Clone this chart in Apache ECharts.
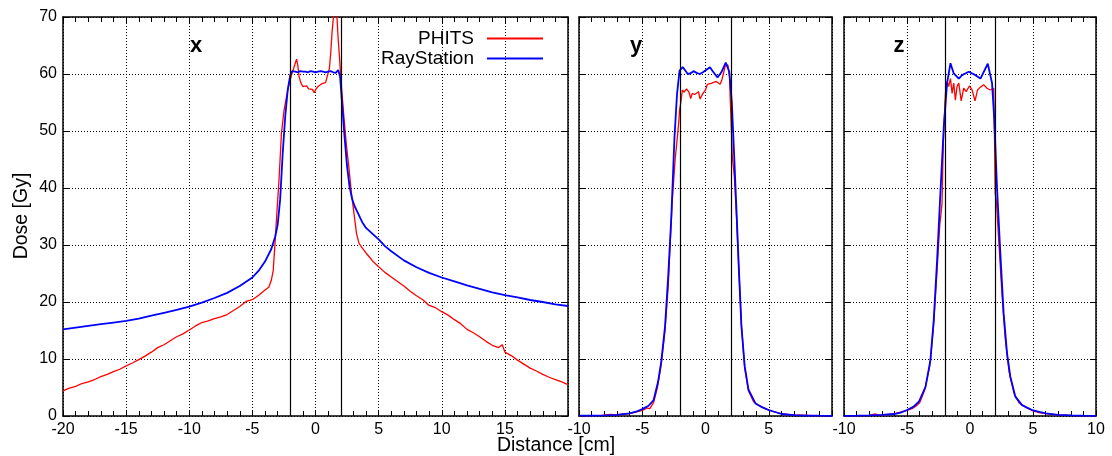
<!DOCTYPE html>
<html>
<head>
<meta charset="utf-8">
<script src="https://cdn.jsdelivr.net/npm/echarts/dist/echarts.min.js"></script>
<style>html,body{margin:0;padding:0;background:#fff}#c{width:1112px;height:456px}</style>
</head>
<body>
<div id="c"></div>
<script>
// ---------------- DATA ----------------
const panelNames = ['x', 'y', 'z'];
const seriesNames = ['PHITS', 'RayStation'];
const xRanges = [[-20, 20], [-10, 10], [-10, 10]];
const doseRange = [0, 70];
const targetEdges = [-2, 2];

const profileX_PHITS = [[-20,4.4],[-19.5,4.9],[-19,5.2],[-18.5,5.7],[-18,6.0],[-17.5,6.4],[-17,6.9],[-16.5,7.3],[-16,7.8],[-15.5,8.2],[-15,8.8],[-14.5,9.3],[-14,9.9],[-13.5,10.5],[-13,11.2],[-12.5,12.0],[-12,12.5],[-11.5,13.2],[-11,13.9],[-10.5,14.4],[-10,15.1],[-9.5,15.8],[-9,16.4],[-8.5,16.7],[-8,17.1],[-7.5,17.4],[-7,17.8],[-6.5,18.5],[-6,19.2],[-5.5,20.1],[-5,20.4],[-4.5,21.2],[-4,22.1],[-3.7,22.6],[-3.5,23.8],[-3.35,25.5],[-3.2,30.5],[-3.05,36],[-2.9,41],[-2.7,49.5],[-2.5,53.5],[-2.3,56],[-2.1,58.2],[-1.9,59.8],[-1.7,61.2],[-1.5,62.6],[-1.4,61.5],[-1.3,59.5],[-1.15,58.4],[-1.0,57.8],[-0.85,57.5],[-0.7,57.9],[-0.55,57.4],[-0.4,57.7],[-0.25,57.3],[-0.1,56.7],[0.05,57.4],[0.2,57.8],[0.35,58.0],[0.5,58.3],[0.65,58.1],[0.8,58.5],[0.95,58.8],[1.1,61],[1.2,63.5],[1.3,67],[1.4,69.5],[1.5,71.5],[1.6,71.5],[1.7,70],[1.8,66],[1.9,63],[2.0,59.5],[2.1,56.5],[2.25,52.5],[2.45,47.5],[2.65,43.5],[2.85,39],[3.05,35.5],[3.25,32],[3.45,30.3],[3.7,29.5],[4.0,28.6],[4.3,27.8],[4.6,27.0],[5.0,26.2],[5.5,25.2],[6,24.4],[6.5,23.6],[7,22.8],[7.5,21.9],[8,21.1],[8.5,20.4],[9,19.4],[9.5,19.0],[10,18.3],[10.5,17.7],[11,16.9],[11.5,16.2],[12,15.2],[12.5,14.6],[13,13.9],[13.5,13.1],[14,12.4],[14.5,12.0],[14.8,12.5],[15,11.2],[15.5,10.6],[16,9.8],[16.5,9.1],[17,8.4],[17.5,7.9],[18,7.3],[18.5,6.8],[19,6.4],[19.5,6.0],[20,5.5]];

const profileX_RS = [[-20,15.2],[-19,15.5],[-18,15.8],[-17,16.1],[-16,16.4],[-15,16.7],[-14,17.1],[-13,17.6],[-12,18.1],[-11,18.6],[-10,19.2],[-9,19.9],[-8,20.7],[-7,21.6],[-6,22.8],[-5,24.3],[-4.5,25.5],[-4,27.1],[-3.5,29.3],[-3.2,31.4],[-3.0,33.5],[-2.8,38],[-2.6,46],[-2.4,52.5],[-2.2,57.2],[-2.0,59.8],[-1.85,60.5],[-1.6,60.4],[-1.4,60.3],[-1.2,60.5],[-1.0,60.4],[-0.8,60.4],[-0.6,60.3],[-0.4,60.5],[-0.2,60.4],[0,60.3],[0.2,60.4],[0.4,60.5],[0.6,60.4],[0.8,60.3],[1.0,60.4],[1.2,60.5],[1.4,60.3],[1.6,60.2],[1.8,60.7],[1.95,59.5],[2.1,55],[2.3,49],[2.5,43.8],[2.7,40.2],[2.9,38.1],[3.1,36.8],[3.4,35.4],[3.7,34.0],[4,33.0],[4.5,32.0],[5,31.0],[5.5,29.8],[6,28.9],[7,27.3],[8,26.1],[9,25.1],[10,24.3],[11,23.6],[12,22.9],[13,22.3],[14,21.7],[15,21.2],[16,20.8],[17,20.35],[18,20.0],[19,19.6],[20,19.3]];

const profileY_PHITS = [[-10,0.02],[-9,0.05],[-8.2,0.1],[-7.5,0.3],[-7,0.2],[-6.5,0.35],[-6,0.4],[-5.5,0.7],[-5,1.0],[-4.6,1.4],[-4.4,1.3],[-4.1,2.4],[-3.8,5.0],[-3.5,9.0],[-3.2,15.0],[-2.95,22.7],[-2.65,37],[-2.4,45],[-2.2,49.5],[-2.1,51.9],[-2.05,53.7],[-1.95,55],[-1.83,57.2],[-1.7,56.8],[-1.62,56.6],[-1.5,57.4],[-1.43,57.5],[-1.3,56.8],[-1.17,55.7],[-1.05,56.6],[-0.96,56.9],[-0.85,56.4],[-0.7,56.6],[-0.55,56.9],[-0.43,55.6],[-0.3,56.2],[-0.17,56.7],[0.0,57.2],[0.15,58.2],[0.3,57.9],[0.5,58.4],[0.65,58.2],[0.85,58.7],[1.0,58.4],[1.16,58.2],[1.3,59.0],[1.45,58.8],[1.56,61.4],[1.77,61.6],[1.9,59.5],[1.96,55.4],[2.05,50],[2.12,45.5],[2.28,42],[2.45,35],[2.63,26],[2.84,16],[3.1,8.4],[3.4,4.4],[3.8,2.5],[4.2,1.9],[4.8,1.2],[5.3,0.8],[6,0.4],[6.8,0.2],[7.5,0.15],[8.5,0.05],[10,0.02]];

const profileY_RS = [[-10,0.05],[-9,0.08],[-8,0.12],[-7,0.2],[-6,0.45],[-5.5,0.75],[-5,1.2],[-4.5,1.8],[-4.1,2.8],[-3.75,6.0],[-3.5,9.5],[-3.2,15.7],[-2.95,24.4],[-2.7,35],[-2.45,49],[-2.25,56.5],[-2.05,60.6],[-1.8,61.2],[-1.6,60.6],[-1.4,60.0],[-1.2,60.1],[-0.95,60.5],[-0.7,60.2],[-0.45,60.0],[-0.2,60.3],[0.1,60.8],[0.35,61.2],[0.6,60.4],[0.95,59.4],[1.25,60.3],[1.6,62.0],[1.88,60.4],[2.08,55],[2.28,45],[2.45,36],[2.63,26.2],[2.84,15.7],[3.1,8.7],[3.4,4.6],[3.95,2.2],[4.5,1.5],[5,1.05],[5.5,0.7],[6,0.35],[7,0.15],[8,0.08],[9,0.05],[10,0.03]];

const profileZ_PHITS = [[-10,0.02],[-9,0.05],[-8,0.1],[-7.5,0.35],[-7.2,0.15],[-6.5,0.3],[-6,0.4],[-5.5,0.7],[-5,1.0],[-4.6,1.3],[-4.3,1.7],[-4,2.3],[-3.6,4.5],[-3.2,8.7],[-2.9,15.5],[-2.6,26],[-2.4,33.5],[-2.3,35.5],[-2.22,37.3],[-2.12,47.8],[-1.95,56.6],[-1.82,58.7],[-1.7,57.8],[-1.55,59.2],[-1.42,56.6],[-1.29,58.4],[-1.16,55.4],[-1.03,57.8],[-0.89,58.4],[-0.7,55.3],[-0.5,57.5],[-0.3,56.9],[-0.05,57.9],[0.15,57.3],[0.4,55.3],[0.6,57.2],[0.83,57.7],[1.1,58.1],[1.35,57.5],[1.6,57.2],[1.75,56.9],[1.88,57.5],[1.95,48],[2.0,39.1],[2.1,37.5],[2.3,30],[2.55,21],[2.8,13.5],[3.1,7.8],[3.5,3.9],[3.9,2.3],[4.5,1.4],[5.0,0.9],[5.5,0.6],[6,0.4],[7,0.2],[8,0.1],[9,0.05],[10,0.02]];

const profileZ_RS = [[-10,0.03],[-9,0.06],[-8,0.12],[-7,0.2],[-6,0.35],[-5.5,0.6],[-5,1.05],[-4.5,1.6],[-4.06,2.5],[-3.53,5.1],[-3.14,9.8],[-2.88,16.8],[-2.61,27.4],[-2.35,39.1],[-2.08,50.8],[-1.82,58.4],[-1.55,61.9],[-1.29,60.1],[-0.89,59.2],[-0.63,59.8],[-0.1,60.4],[0.43,59.8],[0.83,59.2],[1.41,61.8],[1.75,58.4],[1.93,51.9],[2.14,40.2],[2.41,28.5],[2.67,18.0],[2.94,11.0],[3.2,6.9],[3.6,3.4],[4.13,1.9],[4.93,1.05],[6,0.47],[7,0.2],[8,0.1],[9,0.05],[10,0.03]];

// ---------------- CHART ----------------
const FONT = '"Liberation Sans", Arial, Helvetica, sans-serif';
const RED = '#ff0000', BLUE = '#0000ff';
const phits = [profileX_PHITS, profileY_PHITS, profileZ_PHITS];
const rs = [profileX_RS, profileY_RS, profileZ_RS];
const grids = [
  {left: 63, top: 17, width: 505, height: 399},
  {left: 579, top: 17, width: 253, height: 399},
  {left: 844, top: 17, width: 252, height: 399}
];
const panelLabelPos = [[196, 46], [636, 46], [899, 46]];

// fresh objects per axis (no shared references)
const mkLine = () => ({show: true, onZero: false, lineStyle: {color: '#000', width: 1.5}});
const mkTick = () => ({show: true, inside: true, length: 6, lineStyle: {color: '#000', width: 1}});
const mkMinor = () => ({show: true, splitNumber: 5, length: 5, lineStyle: {color: '#000', width: 1}});
const mkDotted = () => ({show: true, lineStyle: {color: '#000', width: 1, type: [1, 2]}});
const mkHidden = () => ({show: true, color: 'rgba(0,0,0,0)', fontSize: 10});

const xAxes = [], yAxes = [], series = [];
grids.forEach((g, i) => {
  const [mn, mx] = xRanges[i];
  xAxes.push({
    type: 'value', gridIndex: i, min: mn, max: mx, interval: 5, position: 'bottom',
    axisLine: mkLine(), axisTick: mkTick(), minorTick: mkMinor(),
    axisLabel: {show: true, margin: 6, fontSize: 16, color: '#000', fontFamily: FONT,
      showMinLabel: true, showMaxLabel: i === 2, hideOverlap: false},
    splitLine: mkDotted()
  });
  yAxes.push({
    type: 'value', gridIndex: i, min: doseRange[0], max: doseRange[1], interval: 10, position: 'left',
    axisLine: mkLine(), axisTick: mkTick(),
    axisLabel: i === 0 ? {show: true, margin: 6, fontSize: 16, color: '#000', fontFamily: FONT} : mkHidden(),
    splitLine: mkDotted()
  });
});
grids.forEach((g, i) => {
  const [mn, mx] = xRanges[i];
  xAxes.push({
    type: 'value', gridIndex: i, min: mn, max: mx, interval: 5, position: 'top',
    axisLine: mkLine(), axisTick: mkTick(), minorTick: mkMinor(),
    axisLabel: mkHidden(), splitLine: {show: false}
  });
  yAxes.push({
    type: 'value', gridIndex: i, min: doseRange[0], max: doseRange[1], interval: 10, position: 'right',
    axisLine: mkLine(), axisTick: mkTick(),
    axisLabel: mkHidden(), splitLine: {show: false}
  });
});
grids.forEach((g, i) => {
  series.push({
    type: 'line', name: seriesNames[0], xAxisIndex: i, yAxisIndex: i, data: phits[i],
    showSymbol: false, symbol: 'none', clip: true, z: 3,
    lineStyle: {color: RED, width: 1.3}, itemStyle: {color: RED},
    emphasis: {disabled: true},
    markLine: {
      silent: true, symbol: ['none', 'none'], label: {show: false}, animation: false,
      emphasis: {disabled: true},
      lineStyle: {color: '#000', type: 'solid', width: 1.2},
      data: targetEdges.map(v => ({xAxis: v}))
    }
  });
  series.push({
    type: 'line', name: seriesNames[1], xAxisIndex: i, yAxisIndex: i, data: rs[i],
    showSymbol: false, symbol: 'none', clip: true, z: 4,
    lineStyle: {color: BLUE, width: 1.8}, itemStyle: {color: BLUE},
    emphasis: {disabled: true}
  });
});

const mkLegend = (top, name) => ({
  orient: 'vertical', right: 569, top, align: 'right', padding: 0,
  itemWidth: 56, itemHeight: 2, icon: 'rect', selectedMode: false, data: [name],
  textStyle: {fontSize: 19, color: '#000', fontFamily: FONT, padding: [0, 8, 0, 0]}
});

const graphic = [
  {type: 'text', x: 22, y: 216, rotation: Math.PI / 2,
   style: {text: 'Dose [Gy]', fill: '#000', font: '19.5px ' + FONT, textAlign: 'center', textVerticalAlign: 'middle'}},
  {type: 'text', x: 556, y: 446,
   style: {text: 'Distance [cm]', fill: '#000', font: '19.5px ' + FONT, textAlign: 'center', textVerticalAlign: 'middle'}}
];
panelNames.forEach((n, i) => {
  graphic.push({type: 'text', x: panelLabelPos[i][0], y: panelLabelPos[i][1],
    style: {text: n, fill: '#000', font: 'bold 22px ' + FONT, textAlign: 'center', textVerticalAlign: 'middle'}});
});

const chart = echarts.init(document.getElementById('c'), null, {renderer: 'canvas'});
chart.setOption({
  animation: false,
  backgroundColor: '#fff',
  grid: grids.map(g => Object.assign({containLabel: false, outerBoundsMode: 'none'}, g)),
  xAxis: xAxes,
  yAxis: yAxes,
  legend: [mkLegend(29, seriesNames[0]), mkLegend(49, seriesNames[1])],
  graphic,
  series
});
</script>
</body>
</html>
